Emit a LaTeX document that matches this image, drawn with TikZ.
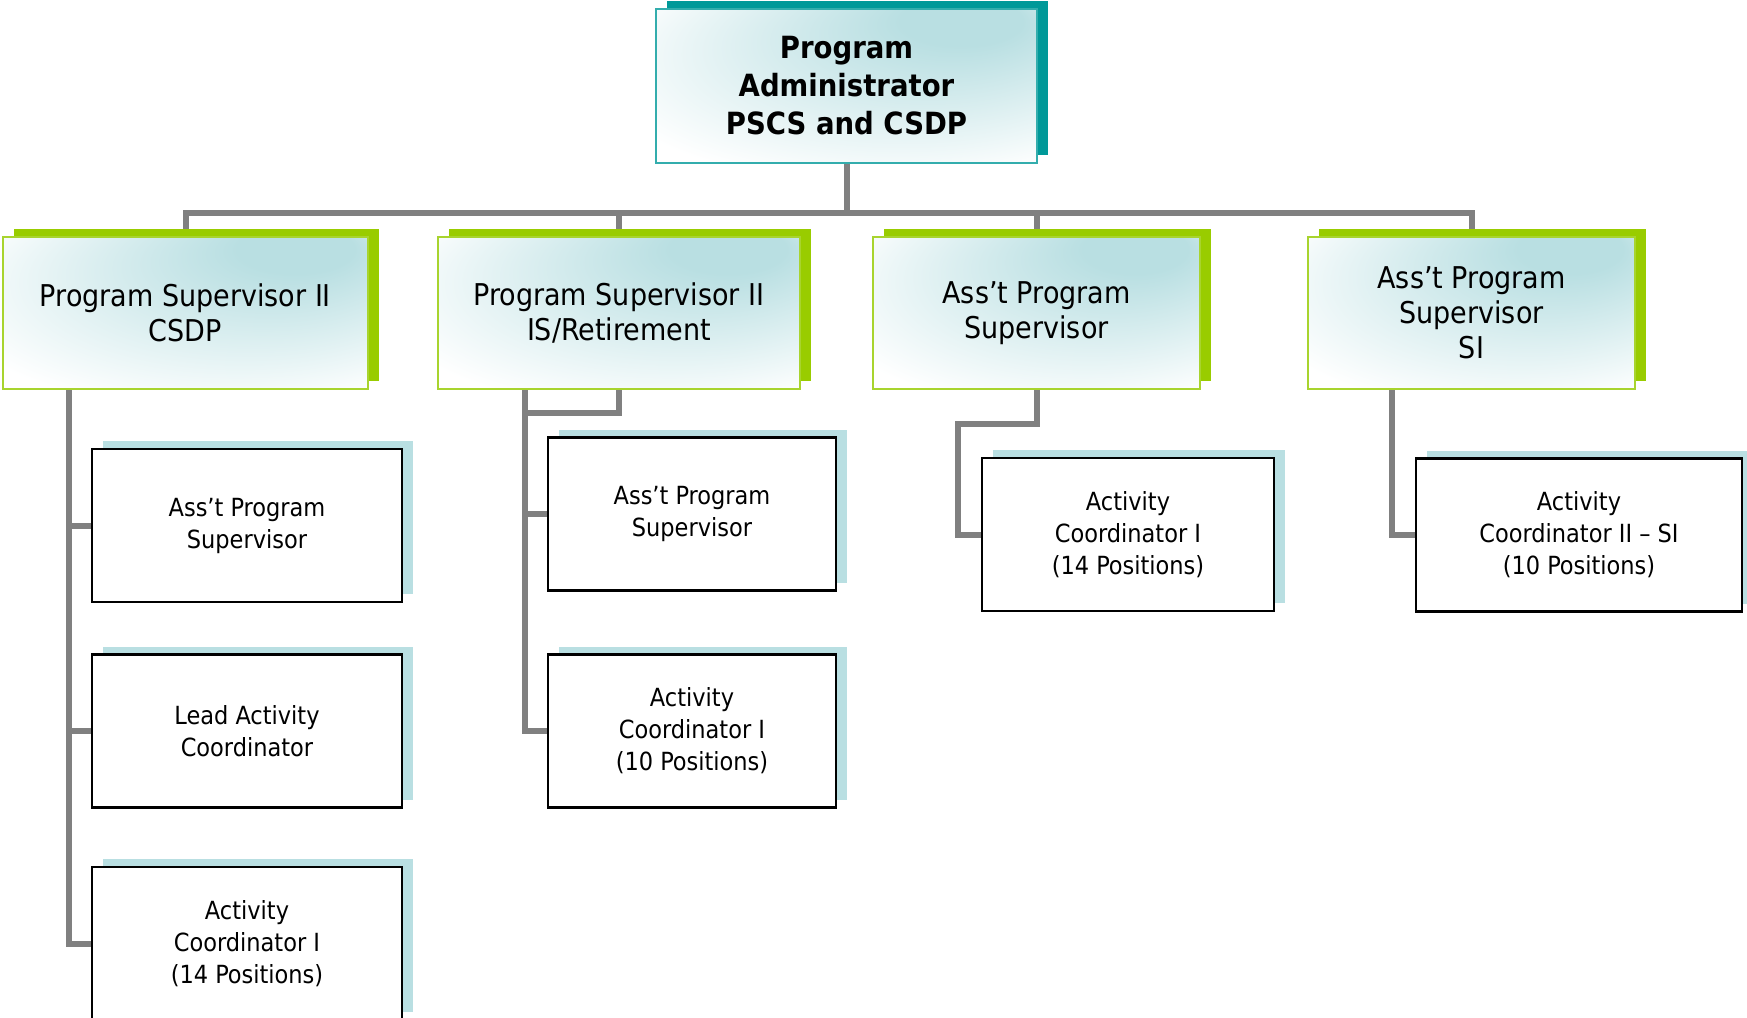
\documentclass[tikz,border=0pt]{standalone}
\usepackage{fontspec}
\setmainfont{DejaVu Sans Condensed}
\usetikzlibrary{positioning}
\usetikzlibrary{calc}
\usetikzlibrary{shadows}
\usetikzlibrary{backgrounds}

\definecolor{tint}{HTML}{B9DFE2}
\definecolor{headteal}{HTML}{009999}
\definecolor{leafgreen}{HTML}{99CC00}
\definecolor{rimgreen}{HTML}{A8D42E}
\definecolor{wire}{HTML}{808080}

\pgfdeclareradialshading{tintglow}{\pgfpoint{18bp}{25bp}}{color(0bp)=(tint); color(8bp)=(tint); color(38bp)=(white); color(50bp)=(white)}

\tikzset{
    headbox/.style={draw=headteal!80, line width=1pt, shade, shading=tintglow, align=center, inner sep=0pt,
        minimum width=190.5pt, minimum height=77pt, font=\fontsize{15.3}{19}\selectfont\bfseries,
        drop shadow={shadow xshift=5.5pt, shadow yshift=4pt, fill=headteal, opacity=1}},
    supbox/.style={draw=rimgreen, line width=1pt, shade, shading=tintglow, align=center, inner sep=0pt,
        minimum height=76pt, font=\fontsize{15}{17.5}\selectfont,
        drop shadow={shadow xshift=5.5pt, shadow yshift=4pt, fill=leafgreen, opacity=1}},
    staffbox/.style={draw=black, line width=1.3pt, fill=white, align=center, inner sep=0pt,
        minimum height=76.5pt, font=\fontsize{12.5}{16}\selectfont,
        drop shadow={shadow xshift=5.5pt, shadow yshift=4pt, fill=tint, opacity=1}},
    link/.style={draw=wire, line width=3pt}
}

\begin{document}
\begin{tikzpicture}[x=0.5pt, y=-0.5pt]

    \useasboundingbox (0,0) rectangle (1747,1018);

    % Draw top box
    \node[headbox] (admin) at (846.5,86) {Program\\Administrator\\PSCS and CSDP};

    % Draw supervisors
    \node[supbox, minimum width=182.5pt] (csdp) at (185.5,313) {Program Supervisor II\\CSDP};
    \node[supbox, minimum width=181pt] (isret) at (619,313) {Program Supervisor II\\IS/Retirement};
    \node[supbox, minimum width=163.5pt] (asst) at (1036.5,313) {Ass’t Program\\Supervisor};
    \node[supbox, minimum width=163.5pt] (asstsi) at (1471.5,313) {Ass’t Program\\Supervisor\\SI};

    % Draw staff under CSDP
    \node[staffbox, minimum width=155pt] (csdpasst) at (247,525.5) {Ass’t Program\\Supervisor};
    \node[staffbox, minimum width=155pt] (csdplead) at (247,731) {Lead Activity\\Coordinator};
    \node[staffbox, minimum width=155pt] (csdpact) at (247,943.5) {Activity\\Coordinator I\\(14 Positions)};

    % Draw staff under IS/Retirement
    \node[staffbox, minimum width=144pt] (isasst) at (692,514) {Ass’t Program\\Supervisor};
    \node[staffbox, minimum width=144pt] (isact) at (692,731) {Activity\\Coordinator I\\(10 Positions)};

    % Draw the other coordinators
    \node[staffbox, minimum width=146pt] (asstact) at (1128,534.5) {Activity\\Coordinator I\\(14 Positions)};
    \node[staffbox, minimum width=163pt] (siact) at (1579,535) {Activity\\Coordinator II – SI\\(10 Positions)};

    % Draw edges
    \begin{scope}[on background layer]
        \coordinate (bus) at (846.5,213);
        \draw[link] (admin.south)--(bus);
        \draw[link] (csdp.north) |- (bus);
        \draw[link] (isret.north) |- (bus);
        \draw[link] (asst.north) |- (bus);
        \draw[link] (asstsi.north) |- (bus);

        \coordinate (csdpfoot) at (68.5,389);
        \draw[link] (csdpfoot) |- (csdpasst.west);
        \draw[link] (csdpfoot) |- (csdplead.west);
        \draw[link] (csdpfoot) |- (csdpact.west);

        \coordinate (isfoot) at (525,389);
        \coordinate (isjoin) at (525,413);
        \draw[link] (isret.south) |- (isjoin);
        \draw[link] (isfoot) |- (isasst.west);
        \draw[link] (isfoot) |- (isact.west);

        \coordinate (asstjoin) at (958,424);
        \draw[link] (asst.south) |- (asstjoin) |- (asstact.west);

        \coordinate (sifoot) at (1392,389);
        \draw[link] (sifoot) |- (siact.west);
    \end{scope}

\end{tikzpicture}
\end{document}
